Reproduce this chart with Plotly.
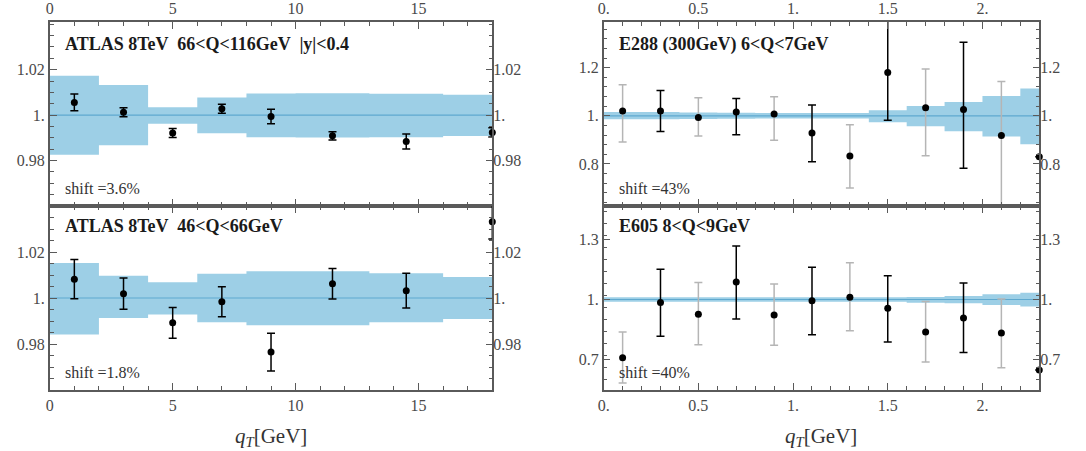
import plotly.graph_objects as go

# ---------------- data ----------------
# ATLAS 8 TeV, bins in qT
atlas_edges = [0, 2, 4, 6, 8, 10, 13, 16, 18]
atlas_x = [1, 3, 5, 7, 9, 11.5, 14.5, 18]

atl66_y = [1.0056, 1.0013, 0.9921, 1.0028, 0.9994, 0.9909, 0.9884, 0.9924]
atl66_err = [0.0037, 0.0020, 0.0020, 0.0020, 0.0032, 0.0018, 0.0033, 0.0020]
atl66_band_hi = [1.0173, 1.0133, 1.0035, 1.0078, 1.0095, 1.0096, 1.0094, 1.0090]
atl66_band_lo = [0.9826, 0.9867, 0.9962, 0.9920, 0.9903, 0.9901, 0.9903, 0.9908]

atl46_y = [1.0082, 1.0019, 0.9892, 0.9984, 0.9765, 1.0062, 1.0032, 1.0332]
atl46_err = [0.0085, 0.0068, 0.0067, 0.0065, 0.0082, 0.0066, 0.0076, 0.0076]
atl46_band_hi = [1.0152, 1.0097, 1.0068, 1.0105, 1.0116, 1.0116, 1.0108, 1.0091]
atl46_band_lo = [0.9841, 0.9913, 0.9928, 0.9895, 0.9882, 0.9882, 0.9895, 0.9909]

# fixed-target, bins of 0.2 GeV
ft_edges = [0.0, 0.2, 0.4, 0.6, 0.8, 1.0, 1.2, 1.4, 1.6, 1.8, 2.0, 2.2, 2.4]
ft_x = [0.1, 0.3, 0.5, 0.7, 0.9, 1.1, 1.3, 1.5, 1.7, 1.9, 2.1, 2.3]

e288_y = [1.020, 1.020, 0.993, 1.016, 1.007, 0.929, 0.833, 1.180, 1.034, 1.026, 0.918, 0.830]
e288_err_up = [0.109, 0.085, 0.082, 0.056, 0.072, 0.116, 0.130, 0.250, 0.161, 0.280, 0.225, 0.0]
e288_err_dn = [0.129, 0.085, 0.077, 0.095, 0.109, 0.120, 0.133, 0.198, 0.200, 0.244, 0.350, 0.0]
e288_band_hi = [1.016, 1.016, 1.014, 1.013, 1.012, 1.012, 1.012, 1.023, 1.041, 1.057, 1.082, 1.113]
e288_band_lo = [0.986, 0.986, 0.987, 0.988, 0.989, 0.989, 0.989, 0.973, 0.957, 0.936, 0.914, 0.882]

e605_y = [0.708, 0.985, 0.926, 1.087, 0.923, 0.994, 1.011, 0.956, 0.837, 0.908, 0.832, 0.647]
e605_err_up = [0.129, 0.167, 0.159, 0.181, 0.154, 0.167, 0.173, 0.163, 0.153, 0.174, 0.170, 0.0]
e605_err_dn = [0.126, 0.169, 0.153, 0.184, 0.152, 0.170, 0.167, 0.169, 0.150, 0.173, 0.174, 0.0]
e605_band_hi = [1.011, 1.011, 1.011, 1.011, 1.011, 1.011, 1.011, 1.011, 1.013, 1.018, 1.026, 1.034]
e605_band_lo = [0.989, 0.989, 0.989, 0.989, 0.989, 0.989, 0.989, 0.989, 0.984, 0.981, 0.973, 0.965]

titles = ["ATLAS 8TeV  66&lt;Q&lt;116GeV  |y|&lt;0.4", "E288 (300GeV) 6&lt;Q&lt;7GeV",
          "ATLAS 8TeV  46&lt;Q&lt;66GeV", "E605 8&lt;Q&lt;9GeV"]
shifts = ["shift =3.6%", "shift =43%", "shift =1.8%", "shift =40%"]

atlas_ticks = [0, 5, 10, 15]
atlas_ticktext = ["0", "5", "10", "15"]
ft_ticks = [0, 0.5, 1.0, 1.5, 2.0]
ft_ticktext = ["0.", "0.5", "1.", "1.5", "2."]
atl_yticks = [0.98, 1.0, 1.02]
atl_yticktext = ["0.98", "1.", "1.02"]
e288_yticks = [0.8, 1.0, 1.2]
e288_yticktext = ["0.8", "1.", "1.2"]
e605_yticks = [0.7, 1.0, 1.3]
e605_yticktext = ["0.7", "1.", "1.3"]

# ---------------- style ----------------
BAND = "#9dcfe6"
CLINE = "#5fa9cf"
AXC = "#5a5a5a"
TXT = "#4a4a4a"
SERIF = "Liberation Serif"

fig = go.Figure()

panels = [
    ("", "5", atlas_edges, atlas_x, atl66_y, atl66_err, atl66_err, atl66_band_hi, atl66_band_lo, False),
    ("2", "6", ft_edges, ft_x, e288_y, e288_err_up, e288_err_dn, e288_band_hi, e288_band_lo, True),
    ("3", "7", atlas_edges, atlas_x, atl46_y, atl46_err, atl46_err, atl46_band_hi, atl46_band_lo, False),
    ("4", "8", ft_edges, ft_x, e605_y, e605_err_up, e605_err_dn, e605_band_hi, e605_band_lo, True),
]

for suf, rsuf, edges, xs, ys, eu, ed, bh, bl, alt in panels:
    xa, ya = "x" + suf, "y" + suf
    # step-shaped uncertainty band
    fig.add_trace(go.Scatter(x=edges, y=list(bl) + [bl[-1]], mode="lines", line=dict(width=0, shape="hv"),
                             xaxis=xa, yaxis=ya, showlegend=False, hoverinfo="skip"))
    fig.add_trace(go.Scatter(x=edges, y=list(bh) + [bh[-1]], mode="lines", line=dict(width=0, shape="hv"),
                             fill="tonexty", fillcolor=BAND,
                             xaxis=xa, yaxis=ya, showlegend=False, hoverinfo="skip"))
    fig.add_trace(go.Scatter(x=[edges[0], edges[-1]], y=[1, 1], mode="lines",
                             line=dict(color=CLINE, width=1.2), xaxis=xa, yaxis=ya,
                             showlegend=False, hoverinfo="skip"))
    groups = [(list(range(len(xs))), "black")]
    if alt:
        groups = [([i for i in range(len(xs)) if i % 2 == 1], "black"),
                  ([i for i in range(len(xs)) if i % 2 == 0], "#b5b5b5")]
    for idx, col in groups:
        fig.add_trace(go.Scatter(
            x=[xs[i] for i in idx], y=[ys[i] for i in idx], mode="markers",
            marker=dict(size=7, color="rgba(0,0,0,0)"),
            error_y=dict(type="data", symmetric=False, array=[eu[i] for i in idx],
                         arrayminus=[ed[i] for i in idx], color=col, thickness=1.5, width=4),
            xaxis=xa, yaxis=ya, cliponaxis=True, showlegend=False, hoverinfo="skip"))
    fig.add_trace(go.Scatter(x=xs, y=ys, mode="markers", marker=dict(size=7, color="black"),
                             xaxis=xa, yaxis=ya, cliponaxis=False, showlegend=False))
    # invisible trace so the right-hand label axis is drawn
    fig.add_trace(go.Scatter(x=[xs[0]], y=[1], mode="markers", marker=dict(size=1, opacity=0),
                             xaxis=xa, yaxis="y" + rsuf, showlegend=False, hoverinfo="skip"))

W, H = 1086, 451
LX = [44 / W, 489 / W]
RX = [601 / W, 1039 / W]
TY = [1 - 206 / H, 1 - 22 / H]
BY = [1 - 390 / H, 1 - 206 / H]

tickfont = dict(family=SERIF, size=16, color=TXT)


def xaxis(domain, anchor, rng, tv, tt, side, mdt):
    return dict(domain=domain, anchor=anchor, range=rng, tickmode="array", tickvals=tv, ticktext=tt,
                side=side, showline=True, linecolor=AXC, linewidth=1.5, mirror="ticks",
                ticks="inside", ticklen=7, tickwidth=1.3, tickcolor=AXC,
                minor=dict(ticks="inside", ticklen=4, tickwidth=1, tickcolor=AXC,
                           tickmode="linear", tick0=0, dtick=mdt),
                showgrid=False, zeroline=False, tickfont=tickfont, fixedrange=True)


def yaxis(domain, anchor, rng, tv, tt, mdt):
    return dict(domain=domain, anchor=anchor, range=rng, tickmode="array", tickvals=tv, ticktext=tt,
                showline=True, linecolor=AXC, linewidth=1.5, mirror="ticks",
                ticks="inside", ticklen=7, tickwidth=1.3, tickcolor=AXC,
                minor=dict(ticks="inside", ticklen=4, tickwidth=1, tickcolor=AXC,
                           tickmode="linear", tick0=0, dtick=mdt),
                showgrid=False, zeroline=False, tickfont=tickfont, fixedrange=True)


def yright(over, anchor, rng, tv, tt):
    return dict(overlaying=over, anchor=anchor, side="right", range=rng, tickmode="array",
                tickvals=tv, ticktext=tt, ticks="", showline=False, showgrid=False,
                zeroline=False, tickfont=tickfont, fixedrange=True)


r_tl = [0.96, 1.041]
r_bl = [0.96, 1.04]
r_tr = [0.625, 1.39]
r_br = [0.547, 1.468]

fig.update_layout(
    width=W, height=H, margin=dict(l=0, r=0, t=0, b=0),
    paper_bgcolor="white", plot_bgcolor="white", showlegend=False,
    xaxis=xaxis(LX, "y", [0, 18], atlas_ticks, atlas_ticktext, "top", 1),
    xaxis2=xaxis(RX, "y2", [0, 2.3], ft_ticks, ft_ticktext, "top", 0.1),
    xaxis3=xaxis(LX, "y3", [0, 18], atlas_ticks, atlas_ticktext, "bottom", 1),
    xaxis4=xaxis(RX, "y4", [0, 2.3], ft_ticks, ft_ticktext, "bottom", 0.1),
    yaxis=yaxis(TY, "x", r_tl, atl_yticks, atl_yticktext, 0.005),
    yaxis2=yaxis(TY, "x2", r_tr, e288_yticks, e288_yticktext, 0.04),
    yaxis3=yaxis(BY, "x3", r_bl, atl_yticks, atl_yticktext, 0.005),
    yaxis4=yaxis(BY, "x4", r_br, e605_yticks, e605_yticktext, 0.06),
    yaxis5=yright("y", "x", r_tl, atl_yticks, atl_yticktext),
    yaxis6=yright("y2", "x2", r_tr, e288_yticks, e288_yticktext),
    yaxis7=yright("y3", "x3", r_bl, atl_yticks, atl_yticktext),
    yaxis8=yright("y4", "x4", r_br, e605_yticks, e605_yticktext),
)

ann = []
for k, (suf, ty) in enumerate([("", 0.88), ("2", 0.88), ("3", 0.89), ("4", 0.89)]):
    xr = "x" + suf + " domain"
    yr = "y" + suf + " domain"
    ann.append(dict(text="<b>" + titles[k] + "</b>", xref=xr, yref=yr, x=0.03, y=ty,
                    xanchor="left", yanchor="middle", showarrow=False,
                    font=dict(family=SERIF, size=18, color="#1a1a1a")))
    ann.append(dict(text=shifts[k], xref=xr, yref=yr, x=0.03, y=0.095,
                    xanchor="left", yanchor="middle", showarrow=False,
                    font=dict(family=SERIF, size=16, color="#333333")))
for xc in [266.5 / W, 820 / W]:
    ann.append(dict(text="<i>q<sub>T</sub></i>[GeV]", xref="paper", yref="paper", x=xc,
                    y=1 - 437 / H, xanchor="center", yanchor="middle", showarrow=False,
                    font=dict(family=SERIF, size=21, color="#333333")))
fig.update_layout(annotations=ann)

fig.write_html("out.html", config={"displayModeBar": False},
               post_script="document.body.style.margin='0';")
